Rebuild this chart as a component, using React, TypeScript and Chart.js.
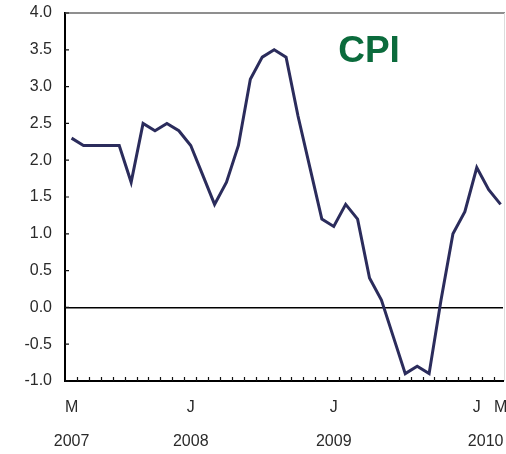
import { useEffect, useRef } from "react";
import { Chart, registerables } from "chart.js";

Chart.register(...registerables);

// Monthly CPI, March 2007 – March 2010 (year-on-year %)
const months = [
  "2007-03", "2007-04", "2007-05", "2007-06", "2007-07", "2007-08", "2007-09", "2007-10", "2007-11", "2007-12",
  "2008-01", "2008-02", "2008-03", "2008-04", "2008-05", "2008-06", "2008-07", "2008-08", "2008-09", "2008-10",
  "2008-11", "2008-12", "2009-01", "2009-02", "2009-03", "2009-04", "2009-05", "2009-06", "2009-07", "2009-08",
  "2009-09", "2009-10", "2009-11", "2009-12", "2010-01", "2010-02", "2010-03",
];
const cpi = [
  2.3, 2.2, 2.2, 2.2, 2.2, 1.7, 2.5, 2.4, 2.5, 2.4,
  2.2, 1.8, 1.4, 1.7, 2.2, 3.1, 3.4, 3.5, 3.4, 2.6,
  1.9, 1.2, 1.1, 1.4, 1.2, 0.4, 0.1, -0.4, -0.9, -0.8,
  -0.9, 0.1, 1.0, 1.3, 1.9, 1.6, 1.4,
];
const xLabelIndex = [0, 10, 22, 34, 36];
const xLabelLetters = ["M", "J", "J", "J", "M"];
const xLabelYears = ["2007", "2008", "2009", "    2010", ""];
const yMin = -1.0;
const yMax = 4.0;
const yStep = 0.5;
const titleText = "CPI";

const FONT = '"Liberation Sans", Arial, Helvetica, sans-serif';

const zeroPad = (s: any) => {
  s.paddingTop = 0;
  s.paddingBottom = 0;
  s.paddingLeft = 0;
  s.paddingRight = 0;
};

const framePlugin = {
  id: "frame",
  afterDraw(chart: any) {
    const { ctx, chartArea: a, scales } = chart;
    const x = scales.x;
    const y = scales.y;
    ctx.save();
    // top border
    ctx.strokeStyle = "#6a6a6a";
    ctx.lineWidth = 1.5;
    ctx.beginPath();
    ctx.moveTo(a.left, a.top);
    ctx.lineTo(a.right + 2, a.top);
    ctx.stroke();
    // faint right border
    ctx.strokeStyle = "#dcdcdc";
    ctx.lineWidth = 1;
    ctx.beginPath();
    ctx.moveTo(a.right + 1.5, a.top);
    ctx.lineTo(a.right + 1.5, a.bottom);
    ctx.stroke();
    // inward monthly ticks on the bottom axis
    ctx.strokeStyle = "#111";
    ctx.lineWidth = 1.2;
    ctx.beginPath();
    for (let i = 0; i < months.length - 1; i++) {
      const px = Math.round(x.getPixelForValue(i + 0.45)) + 0.5;
      ctx.moveTo(px, a.bottom);
      ctx.lineTo(px, a.bottom - 4);
    }
    // inward ticks on the left axis
    for (const t of y.ticks) {
      const py = y.getPixelForValue(t.value);
      ctx.moveTo(a.left, py);
      ctx.lineTo(a.left + 4, py);
    }
    ctx.stroke();
    // title
    ctx.fillStyle = "#0b6b3c";
    ctx.font = `bold 37px ${FONT}`;
    ctx.textAlign = "center";
    ctx.textBaseline = "alphabetic";
    ctx.fillText(titleText, a.left + 304, a.top + 48.5);
    ctx.restore();
  },
};

export default function App() {
  const ref = useRef<HTMLCanvasElement | null>(null);

  useEffect(() => {
    if (!ref.current) return;
    const chart = new Chart(ref.current, {
      type: "line",
      data: {
        datasets: [
          {
            label: titleText,
            data: cpi.map((v, i) => ({ x: i, y: v })),
            borderColor: "#2b2c5c",
            borderWidth: 3,
            pointRadius: 0,
            tension: 0,
            fill: false,
          },
        ],
      },
      options: {
        animation: false,
        responsive: false,
        layout: { autoPadding: false, padding: { top: 13, right: 3, left: 0, bottom: 0 } },
        plugins: { legend: { display: false }, tooltip: { enabled: false }, title: { display: false } },
        scales: {
          x: {
            type: "linear",
            min: -0.55,
            max: 36.2,
            afterFit: (s: any) => {
              s.height = 73;
              zeroPad(s);
            },
            afterBuildTicks: (s: any) => {
              s.ticks = xLabelIndex.map((v) => ({ value: v }));
            },
            grid: { display: false, drawTicks: false },
            border: { display: true, color: "#000", width: 2 },
            ticks: {
              autoSkip: false,
              maxRotation: 0,
              minRotation: 0,
              padding: 9,
              color: "#2a2a2a",
              font: { family: FONT, size: 16, lineHeight: "34.6px" },
              callback: (v: any) => {
                const k = xLabelIndex.indexOf(v);
                if (k < 0) return "";
                return xLabelYears[k] ? [xLabelLetters[k], xLabelYears[k]] : xLabelLetters[k];
              },
            },
          },
          y: {
            min: yMin,
            max: yMax,
            afterFit: (s: any) => {
              s.width = 65;
              zeroPad(s);
            },
            grid: {
              drawTicks: false,
              color: (c: any) => (c.tick && Math.abs(c.tick.value) < 1e-9 ? "#000" : "rgba(0,0,0,0)"),
              lineWidth: 1.6,
            },
            border: { display: true, color: "#000", width: 2 },
            ticks: {
              stepSize: yStep,
              padding: 13,
              color: "#2a2a2a",
              font: { family: FONT, size: 16 },
              callback: (v: any) => Number(v).toFixed(1),
            },
          },
        },
      },
      plugins: [framePlugin],
    });
    return () => chart.destroy();
  }, []);

  return (
    <div style={{ position: "fixed", left: 0, top: 0, width: 506, height: 454, background: "#fff" }}>
      <canvas ref={ref} width={506} height={454} style={{ display: "block" }} />
    </div>
  );
}
